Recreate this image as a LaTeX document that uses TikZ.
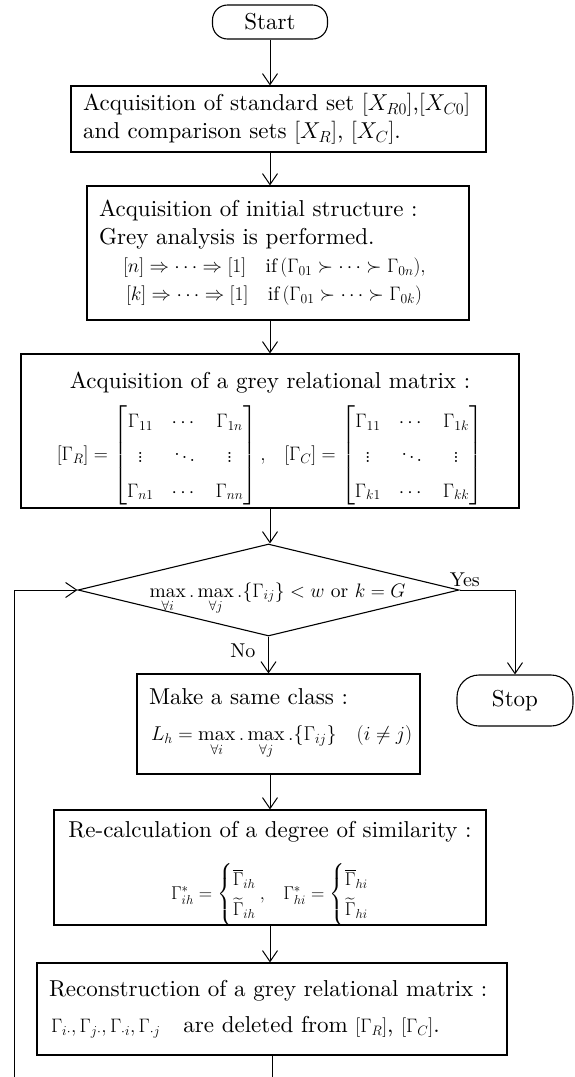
\RequirePackage{fix-cm}
\documentclass[tikz,border=0pt]{standalone}
\usepackage{amsmath}
\usepackage{fontspec}
\setmainfont{lmroman10-regular.otf}[ItalicFont=lmroman10-italic.otf,BoldFont=lmroman10-bold.otf]
\usetikzlibrary{arrows.meta,shapes.geometric,calc}
\newcommand{\mf}{\fontsize{19.5}{28}\selectfont}
\newcommand{\ms}{\fontsize{18.5}{28}\selectfont}
\newcommand{\twocase}[2]{\left\{\renewcommand{\arraystretch}{1.08}\begin{array}{@{}l@{}}#1\\ #2\end{array}\right.}
\newcommand{\shortdepth}[2]{\raisebox{0pt}[\height][\dimexpr\depth-#1\relax]{#2}}
\tikzset{
  txt/.style={font=\fontsize{23}{28}\selectfont},
  lbl/.style={font=\fontsize{20}{24}\selectfont, inner sep=0pt},
  box/.style={txt, draw, line width=1.1pt, rectangle, inner ysep=0pt, inner xsep=12pt},
  term/.style={txt, draw, line width=1.1pt, rectangle, inner sep=0pt},
  arr/.style={line width=1pt, -{Straight Barb[length=11pt,width=15pt,line width=1pt]}},
  lin/.style={line width=1pt}
}
\begin{document}
\begin{tikzpicture}[x=1pt,y=1pt]
\useasboundingbox (0,0) rectangle (574,-1077);
% terminals
\node[term, rounded corners=15pt, minimum width=115pt, minimum height=34pt] (start) at (270,-22) {Start};
\node[term, rounded corners=22pt, minimum width=116pt, minimum height=51pt] (stop) at (515,-700.5) {Stop};
% process boxes
\node[box, minimum width=415pt, minimum height=66pt, text width=391pt, align=left] (b1) at (278.5,-119)
  {Acquisition of standard set $[X_{R0}]$,$[X_{C0}]$\\and comparison sets $[X_R]$, $[X_C]$.};
\node[box, minimum width=382pt, minimum height=134pt, text width=358pt, align=left] (b2) at (278,-253)
  {Acquisition of initial structure :\\
   Grey analysis is performed.\\
   \hspace*{24pt}{\mf$[n]\Rightarrow\cdots\Rightarrow[1]\quad\text{if}\,(\Gamma_{01}\succ\cdots\succ\Gamma_{0n}),$}\\
   \hspace*{27pt}{\mf$[k]\Rightarrow\cdots\Rightarrow[1]\quad\text{if}\,(\Gamma_{01}\succ\cdots\succ\Gamma_{0k})$}};
\node[box, minimum width=498pt, minimum height=154pt, text width=474pt, align=center] (b3) at (270,-431)
  {\rule{0pt}{25pt}Acquisition of a grey relational matrix :\\[9pt]
   \shortdepth{9pt}{\mf\setlength{\arraycolsep}{9pt}\renewcommand{\arraystretch}{1.24}%
   $[\Gamma_R]=\begin{bmatrix}\Gamma_{11}&\cdots&\Gamma_{1n}\\ \vdots&\ddots&\vdots\\ \Gamma_{n1}&\cdots&\Gamma_{nn}\end{bmatrix},\ \
    [\Gamma_C]=\begin{bmatrix}\Gamma_{11}&\cdots&\Gamma_{1k}\\ \vdots&\ddots&\vdots\\ \Gamma_{k1}&\cdots&\Gamma_{kk}\end{bmatrix}$}};
% decision
\node[draw, diamond, line width=1.1pt, minimum width=381pt, minimum height=92pt, inner sep=0pt] (dia) at (268.5,-590) {};
\node[txt, anchor=base] (dtx) at ($(dia.center)+(9,-7)$)
  {{\mf$\max\limits_{\forall i}.\max\limits_{\forall j}.\{\Gamma_{ij}\}<w$ or $k=G$}};
\node[lbl, anchor=south west] (yes) at ($(dia.east)+(-10,3)$) {Yes};
\node[lbl, anchor=east] (no) at ($(dia.south)+(-13,-14)$) {No};
\node[box, minimum width=283pt, minimum height=100pt, text width=259pt, align=left] (mk) at (278.5,-724)
  {Make a same class :\\[8pt]
   \hspace*{2pt}\mbox{\fontsize{20}{28}\selectfont$L_h=\max\limits_{\forall i}.\max\limits_{\forall j}.\{\Gamma_{ij}\}\quad(i\neq j)$}};
\node[box, minimum width=432pt, minimum height=115pt, text width=408pt, align=center] (rc) at (270,-867.5)
  {Re-calculation of a degree of similarity :\\[20pt]
   \shortdepth{12pt}{\ms$\Gamma^*_{ih}=\twocase{\overline{\Gamma}_{ih}}{\widetilde{\Gamma}_{ih}},\ \
     \Gamma^*_{hi}=\twocase{\overline{\Gamma}_{hi}}{\widetilde{\Gamma}_{hi}}$}};
\node[box, minimum width=470pt, minimum height=92pt, text width=446pt, align=left] (rn) at (272,-1009)
  {Reconstruction of a grey relational matrix :\\[8pt]
   \hspace*{2pt}{\mf$\Gamma_{i\cdot},\Gamma_{j\cdot},\Gamma_{\cdot i},\Gamma_{\cdot j}$}\quad are deleted from {\mf$[\Gamma_R]$}, {\mf$[\Gamma_C]$}.};
% loop coordinates
\coordinate (lb) at (14,-1077);
\coordinate (rb) at (272,-1077);
% connectors
\draw[arr] (start.south) -- (start.south |- b1.north);
\draw[arr] (b1.south -| start) -- (b2.north -| start);
\draw[arr] (b2.south -| start) -- (b3.north -| start);
\draw[arr] (b3.south -| start) -- (dia.north -| start);
\draw[arr] (dia.south) -- (dia.south |- mk.north);
\draw[arr] (dia.east) -| (stop.north);
\draw[arr] (mk.south -| start) -- (rc.north -| start);
\draw[arr] (rc.south -| start) -- (rn.north -| start);
\draw[lin] (rn.south -| rb) -- (rb);
\draw[arr] (lb) -- (lb |- dia.west) -- (dia.west);
\end{tikzpicture}
\end{document}
